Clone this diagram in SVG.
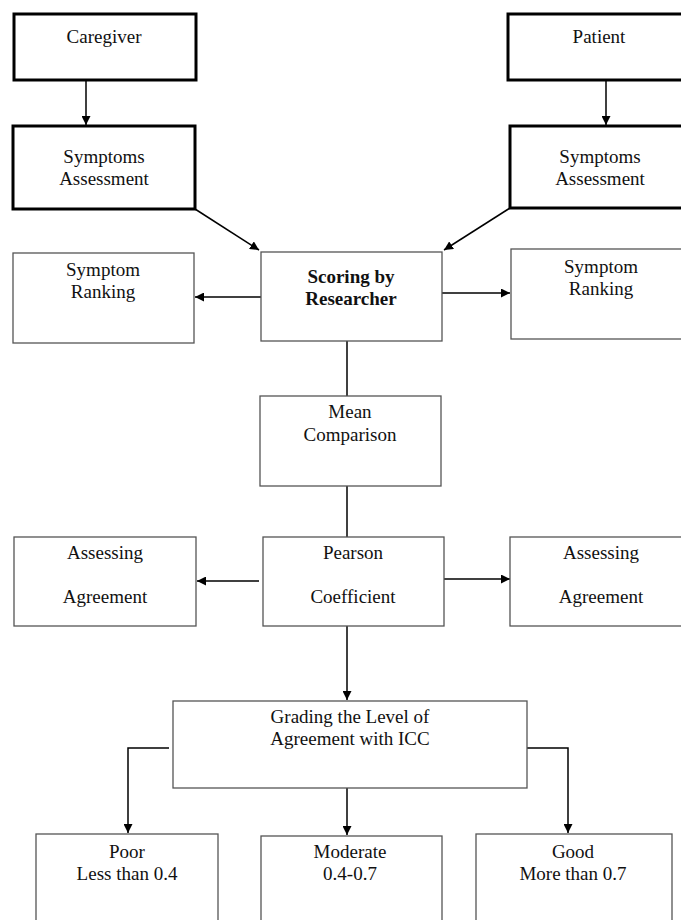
<svg xmlns="http://www.w3.org/2000/svg" width="681" height="920" viewBox="0 0 681 920">
<style>
text{font-family:"Liberation Serif","Times New Roman",serif;font-size:19px;fill:#111;text-anchor:middle}
.b{font-weight:bold}
.thick{fill:#fff;stroke:#000;stroke-width:3}
.thin{fill:#fff;stroke:#555;stroke-width:1.3}
.c{fill:none;stroke:#000;stroke-width:1.5}
</style>
<defs>
<marker id="ah" viewBox="0 0 10 10" refX="10" refY="5" markerWidth="6" markerHeight="6" orient="auto" markerUnits="strokeWidth">
<path d="M0,0 L10,5 L0,10 z" fill="#000"/>
</marker>
</defs>
<rect width="681" height="920" fill="#fff"/>
<g id="connectors">
<line class="c" x1="86" y1="80" x2="86" y2="125" marker-end="url(#ah)"/>
<line class="c" x1="606" y1="80" x2="606" y2="125" marker-end="url(#ah)"/>
<line class="c" x1="195" y1="209" x2="259" y2="250" marker-end="url(#ah)"/>
<line class="c" x1="510" y1="208" x2="444" y2="250" marker-end="url(#ah)"/>
<line class="c" x1="261" y1="297" x2="195" y2="297" marker-end="url(#ah)"/>
<line class="c" x1="442" y1="293" x2="510" y2="293" marker-end="url(#ah)"/>
<line class="c" x1="347" y1="341" x2="347" y2="396"/>
<line class="c" x1="347" y1="486" x2="347" y2="537"/>
<line class="c" x1="259" y1="581" x2="197" y2="581" marker-end="url(#ah)"/>
<line class="c" x1="444" y1="579" x2="510" y2="579" marker-end="url(#ah)"/>
<line class="c" x1="347" y1="626" x2="347" y2="700" marker-end="url(#ah)"/>
<polyline class="c" points="169,748 128,748 128,833" marker-end="url(#ah)"/>
<line class="c" x1="347" y1="788" x2="347" y2="835" marker-end="url(#ah)"/>
<polyline class="c" points="527,748 568,748 568,833" marker-end="url(#ah)"/>
</g>
<g id="caregiver"><rect class="thick" x="14" y="14" width="182" height="66"/><text x="104" y="43">Caregiver</text></g>
<g id="patient"><rect class="thick" x="508" y="14" width="190" height="66"/><text x="599" y="43">Patient</text></g>
<g id="assess-left"><rect class="thick" x="13" y="126" width="182" height="83"/><text x="104" y="163">Symptoms</text><text x="104" y="185">Assessment</text></g>
<g id="assess-right"><rect class="thick" x="510" y="126" width="190" height="82"/><text x="600" y="163">Symptoms</text><text x="600" y="185">Assessment</text></g>
<g id="scoring"><rect class="thin" x="261" y="252" width="181" height="89"/><text class="b" x="351" y="283">Scoring by</text><text class="b" x="351" y="305">Researcher</text></g>
<g id="ranking-left"><rect class="thin" x="13" y="253" width="181" height="90"/><text x="103" y="276">Symptom</text><text x="103" y="298">Ranking</text></g>
<g id="ranking-right"><rect class="thin" x="511" y="249" width="190" height="90"/><text x="601" y="273">Symptom</text><text x="601" y="295">Ranking</text></g>
<g id="mean"><rect class="thin" x="260" y="396" width="181" height="90"/><text x="350" y="418">Mean</text><text x="350" y="441">Comparison</text></g>
<g id="pearson"><rect class="thin" x="263" y="537" width="181" height="89"/><text x="353" y="559">Pearson</text><text x="353" y="603">Coefficient</text></g>
<g id="agree-left"><rect class="thin" x="14" y="537" width="182" height="89"/><text x="105" y="559">Assessing</text><text x="105" y="603">Agreement</text></g>
<g id="agree-right"><rect class="thin" x="510" y="537" width="190" height="89"/><text x="601" y="559">Assessing</text><text x="601" y="603">Agreement</text></g>
<g id="grading"><rect class="thin" x="173" y="701" width="354" height="87"/><text x="350" y="723">Grading the Level of</text><text x="350" y="745">Agreement with ICC</text></g>
<g id="poor"><rect class="thin" x="36" y="834" width="182" height="100"/><text x="127" y="858">Poor</text><text x="127" y="880">Less than 0.4</text></g>
<g id="moderate"><rect class="thin" x="261" y="836" width="181" height="100"/><text x="350" y="858">Moderate</text><text x="350" y="880">0.4-0.7</text></g>
<g id="good"><rect class="thin" x="476" y="834" width="196" height="100"/><text x="573" y="858">Good</text><text x="573" y="880">More than 0.7</text></g>
</svg>
